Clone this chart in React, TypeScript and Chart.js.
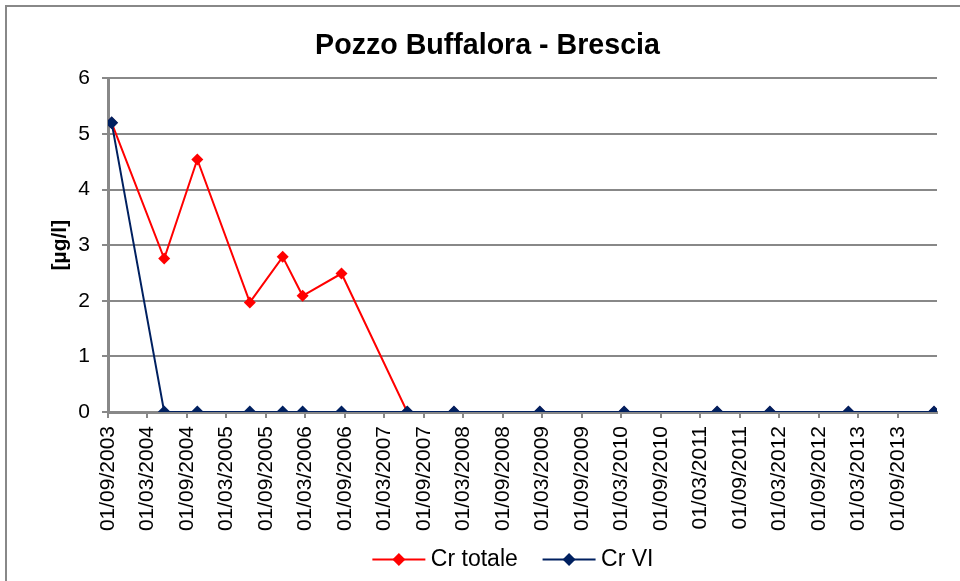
import React, { useEffect, useRef } from "react";
import { Chart, registerables } from "chart.js";

Chart.register(...registerables);

// Sampling dates
const sampleDates = [
  "2003-09-18", "2004-05-18", "2004-10-18", "2005-06-18", "2005-11-17",
  "2006-02-17", "2006-08-16", "2007-06-16", "2008-01-18", "2009-02-18",
  "2010-03-15", "2011-05-19", "2012-01-18", "2013-01-15", "2014-02-15",
];
const crTotale = [5.2, 2.76, 4.54, 1.97, 2.79, 2.09, 2.49, 0, 0, 0, 0, 0, 0, 0, 0];
const crVI = [5.2, 0, 0, 0, 0, 0, 0, 0, 0, 0, 0, 0, 0, 0, 0];
const seriesNames = ["Cr totale", "Cr VI"];

// Axis range and tick dates
const axisStart = "2003-09-01";
const axisEnd = "2014-03-01";
const tickDates = [
  "2003-09-01", "2004-03-01", "2004-09-01", "2005-03-01", "2005-09-01",
  "2006-03-01", "2006-09-01", "2007-03-01", "2007-09-01", "2008-03-01",
  "2008-09-01", "2009-03-01", "2009-09-01", "2010-03-01", "2010-09-01",
  "2011-03-01", "2011-09-01", "2012-03-01", "2012-09-01", "2013-03-01",
  "2013-09-01",
];
const yTicks = [0, 1, 2, 3, 4, 5, 6];

const DAY = 86400000;
const toDay = (s: string) => {
  const [y, m, d] = s.split("-").map(Number);
  return (Date.UTC(y, m - 1, d) - Date.UTC(2003, 8, 1)) / DAY;
};
const fmt = (day: number) => {
  const t = new Date(Date.UTC(2003, 8, 1) + day * DAY);
  const dd = String(t.getUTCDate()).padStart(2, "0");
  const mm = String(t.getUTCMonth() + 1).padStart(2, "0");
  return `${dd}/${mm}/${t.getUTCFullYear()}`;
};

const RED = "#FF0000";
const NAVY = "#002060";
const GRID = "#888888";
const FONT = "'Liberation Sans', Arial, sans-serif";
const LEGEND_LINE = 53;

const legendMarkers = {
  id: "legendMarkers",
  afterDraw(chart: any) {
    const legend = chart.legend;
    if (!legend || !legend.legendHitBoxes || !legend.legendItems) return;
    const ctx = chart.ctx;
    legend.legendHitBoxes.forEach((hb: any, i: number) => {
      const item = legend.legendItems[i];
      const ds = chart.data.datasets[item.datasetIndex];
      const x0 = hb.left;
      const cy = hb.top + hb.height / 2;
      const cx = x0 + LEGEND_LINE / 2;
      ctx.save();
      ctx.strokeStyle = ds.borderColor;
      ctx.lineWidth = 2;
      ctx.beginPath();
      ctx.moveTo(x0, cy);
      ctx.lineTo(x0 + LEGEND_LINE, cy);
      ctx.stroke();
      ctx.fillStyle = ds.pointBackgroundColor;
      ctx.beginPath();
      const r = 6.5;
      ctx.moveTo(cx, cy - r);
      ctx.lineTo(cx + r, cy);
      ctx.lineTo(cx, cy + r);
      ctx.lineTo(cx - r, cy);
      ctx.closePath();
      ctx.fill();
      ctx.restore();
    });
  },
};

export default function App() {
  const ref = useRef<HTMLCanvasElement>(null);
  useEffect(() => {
    if (!ref.current) return;
    const xs = sampleDates.map(toDay);
    const chart = new Chart(ref.current, {
      type: "line",
      data: {
        datasets: [
          {
            label: seriesNames[0],
            data: xs.map((x, i) => ({ x, y: crTotale[i] })),
            borderColor: RED,
            backgroundColor: RED,
            pointBackgroundColor: RED,
            pointBorderColor: RED,
            borderWidth: 2,
            pointStyle: "rectRot",
            pointRadius: 6,
            pointBorderWidth: 0,
            tension: 0,
            order: 1,
          },
          {
            label: seriesNames[1],
            data: xs.map((x, i) => ({ x, y: crVI[i] })),
            borderColor: NAVY,
            backgroundColor: NAVY,
            pointBackgroundColor: NAVY,
            pointBorderColor: NAVY,
            borderWidth: 2,
            pointStyle: "rectRot",
            pointRadius: 6.5,
            pointBorderWidth: 0,
            tension: 0,
            order: 0,
          },
        ],
      },
      options: {
        animation: false,
        responsive: false,
        layout: { padding: { left: 15, right: 0, top: 0, bottom: 0 } },
        plugins: {
          title: {
            display: true,
            text: "Pozzo Buffalora - Brescia",
            color: "#000",
            font: { family: FONT, size: 28.6, weight: "bold" },
            padding: { top: 29, bottom: 15 },
          },
          legend: {
            position: "bottom",
            fullSize: false,
            labels: {
              color: "#000",
              font: { family: FONT, size: 23 },
              boxWidth: 47,
              boxHeight: 2,
              padding: 12,
              generateLabels: (c: any) =>
                c.data.datasets.map((ds: any, i: number) => ({
                  text: i === 0 ? ds.label + "  " : ds.label + "   ",
                  fillStyle: "rgba(0,0,0,0)",
                  strokeStyle: "rgba(0,0,0,0)",
                  lineWidth: 0,
                  hidden: false,
                  datasetIndex: i,
                  fontColor: "#000",
                })),
            },
          },
          tooltip: { enabled: false },
        },
        scales: {
          x: {
            type: "linear",
            min: toDay(axisStart),
            max: toDay(axisEnd),
            afterBuildTicks: (s: any) => {
              s.ticks = tickDates.map((d) => ({ value: toDay(d) }));
            },
            afterFit: (s: any) => {
              s.height = 124;
              s.paddingRight = 23;
            },
            ticks: {
              autoSkip: false,
              maxRotation: 90,
              minRotation: 90,
              padding: 8,
              color: "#000",
              font: { family: FONT, size: 21 },
              callback: (v: any) => fmt(Number(v)),
            },
            grid: {
              drawOnChartArea: false,
              drawTicks: true,
              tickLength: 6,
              color: GRID,
              lineWidth: 2,
            },
            border: { display: true, color: GRID, width: 3 },
          },
          y: {
            min: 0,
            max: 6,
            afterBuildTicks: (s: any) => {
              s.ticks = yTicks.map((v) => ({ value: v }));
            },
            afterFit: (s: any) => {
              s.width = 93;
            },
            ticks: {
              padding: 12,
              color: "#000",
              font: { family: FONT, size: 21 },
            },
            grid: {
              color: GRID,
              lineWidth: 2,
              tickLength: 6,
            },
            border: { display: true, color: GRID, width: 3 },
            title: {
              display: true,
              text: "[µg/l]",
              color: "#000",
              font: { family: FONT, size: 21, weight: "bold" },
              padding: { top: 33, bottom: 0 },
            },
          },
        },
      },
      plugins: [legendMarkers],
    });
    return () => chart.destroy();
  }, []);
  return (
    <div style={{ position: "absolute", left: 0, top: 0, width: 960, height: 581, overflow: "hidden", background: "#fff" }}>
      <div style={{ position: "absolute", left: 5, top: 5, width: 1000, height: 1000, border: "2px solid #888" }} />
      <canvas ref={ref} width={960} height={581} style={{ position: "absolute", left: 0, top: 0 }} />
    </div>
  );
}
